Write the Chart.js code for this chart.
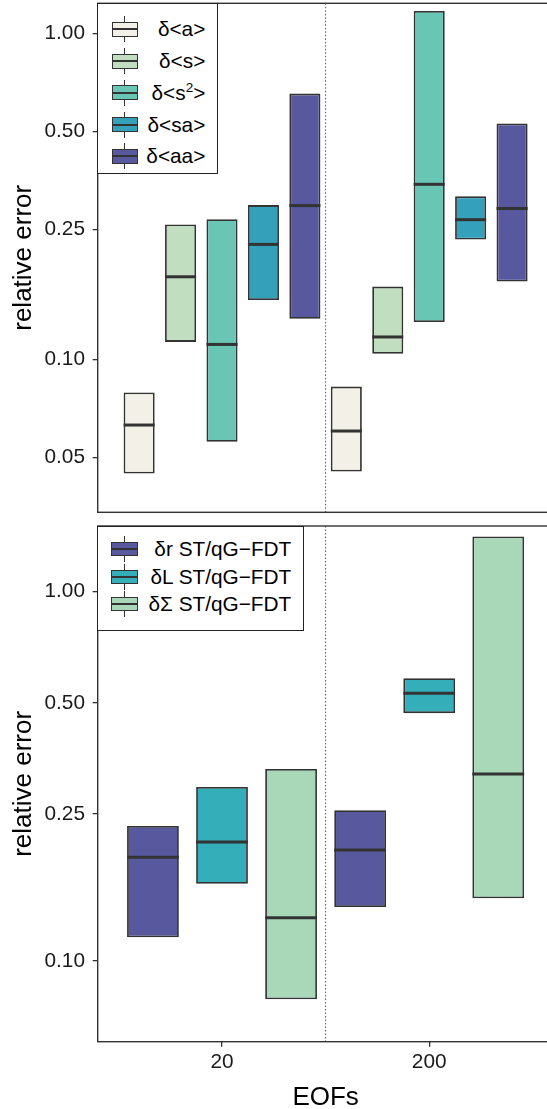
<!DOCTYPE html>
<html lang="en">
<head>
  <meta charset="UTF-8">
  <title>Relative error vs EOFs</title>
  <script src="https://cdn.jsdelivr.net/npm/chart.js"></script>
  <style>
    html, body {
      margin: 0;
      padding: 0;
      background: #fff;
      overflow: hidden;
      width: 547px;
      height: 1109px;
    }
    body {
      position: relative;
      font-family: "Liberation Sans", Arial, sans-serif;
    }
    .panel { position: absolute; left: 0; width: 560px; }
    #topPanel { top: 0; height: 518px; }
    #botPanel { top: 520px; height: 605px; }
    .legend {
      position: absolute;
      background: #fff;
      border: 1.3px solid #222;
      box-sizing: border-box;
      z-index: 2;
    }
    .whisker { position: absolute; width: 1.2px; background: #333; }
    .key {
      position: absolute;
      box-sizing: border-box;
      border: 1.8px solid #333;
    }
    .key .mid {
      position: absolute;
      left: 0; right: 0;
      top: calc(50% - 1px);
      height: 2px;
      background: #333;
    }
    .ltext {
      position: absolute;
      font-size: 20.8px;
      line-height: 1;
      color: #000;
      white-space: nowrap;
      transform: translateY(-50%);
    }
    .ltext sup {
      font-size: 0.65em;
      position: relative;
      top: -0.6em;
      vertical-align: baseline;
      line-height: 0;
    }
  </style>
</head>
<body>

  <div class="panel" id="topPanel"><canvas id="topChart" width="560" height="518"></canvas></div>
  <div class="panel" id="botPanel"><canvas id="botChart" width="560" height="605"></canvas></div>
  <div class="legend" id="topLegend" style="left:97px; top:3px; width:121px; height:171px;"></div>
  <div class="legend" id="botLegend" style="left:97px; top:526px; width:207px; height:105px;"></div>

  <script>
    // categories (number of EOFs) and their position on the x scale
    const eofLabels = ['20', '200'];
    const eofPos = [0, 1];
    const dividerAt = 0.5;

    const topTicks = [0.05, 0.10, 0.25, 0.50, 1.00];
    const botTicks = [0.10, 0.25, 0.50, 1.00];

    // upper panel: one row per series, one value per EOF category
    const topNames = ['δ<a>', 'δ<s>', 'δ<s²>', 'δ<sa>', 'δ<aa>'];
    const topColors = ['#F3F1E7', '#C1DFC0', '#6AC6B4', '#35A0BA', '#57589D'];
    const topLower = [[0.0446, 0.0452], [0.113, 0.104], [0.0558, 0.130], [0.152, 0.233], [0.133, 0.173]];
    const topMedian = [[0.0628, 0.0602], [0.179, 0.117], [0.111, 0.344], [0.225, 0.268], [0.296, 0.290]];
    const topUpper = [[0.0791, 0.0824], [0.259, 0.167], [0.269, 1.17], [0.297, 0.316], [0.653, 0.529]];

    // lower panel
    const botNames = ['δr ST/qG−FDT', 'δL ST/qG−FDT', 'δΣ ST/qG−FDT'];
    const botColors = ['#57589D', '#34AFB9', '#A8D8B8'];
    const botLower = [[0.116, 0.140], [0.162, 0.469], [0.0788, 0.148]];
    const botMedian = [[0.191, 0.200], [0.210, 0.531], [0.131, 0.321]];
    const botUpper = [[0.232, 0.256], [0.296, 0.583], [0.331, 1.41]];

    const FONT = '"Liberation Sans", Arial, sans-serif';

    // medians, dotted divider and panel frame
    const boxExtras = {
      id: 'boxExtras',
      beforeDatasetsDraw(chart) {
        const { ctx, chartArea: a, scales: { x } } = chart;
        const px = x.getPixelForValue(dividerAt);
        ctx.save();
        ctx.strokeStyle = '#555';
        ctx.lineWidth = 1;
        ctx.setLineDash([1.5, 2]);
        ctx.beginPath();
        ctx.moveTo(px, a.top);
        ctx.lineTo(px, a.bottom);
        ctx.stroke();
        ctx.restore();
      },
      afterDatasetsDraw(chart) {
        const { ctx, chartArea: a, scales: { y } } = chart;
        ctx.save();
        ctx.strokeStyle = '#333';
        ctx.lineWidth = 3;
        chart.data.datasets.forEach((ds, di) => {
          chart.getDatasetMeta(di).data.forEach((bar, i) => {
            const py = y.getPixelForValue(ds.medians[i]);
            ctx.beginPath();
            ctx.moveTo(bar.x - bar.width / 2, py);
            ctx.lineTo(bar.x + bar.width / 2, py);
            ctx.stroke();
          });
        });
        ctx.lineWidth = 1.4;
        ctx.strokeRect(a.left, a.top, a.right - a.left, a.bottom - a.top);
        ctx.restore();
      }
    };

    function makeChart(id, names, colors, lower, median, upper, ticks, yMin, yMax, showX, padding) {
      const datasets = names.map((name, s) => ({
        label: name,
        data: eofPos.map((p, i) => ({ x: p, y: [lower[s][i], upper[s][i]] })),
        medians: median[s],
        backgroundColor: colors[s],
        borderColor: '#333',
        borderWidth: 1.8,
        borderSkipped: false,
        categoryPercentage: 1.0,
        barPercentage: 0.75
      }));

      return new Chart(document.getElementById(id), {
        type: 'bar',
        data: { datasets },
        plugins: [boxExtras],
        options: {
          responsive: false,
          maintainAspectRatio: false,
          animation: false,
          layout: { padding },
          plugins: { legend: { display: false }, tooltip: { enabled: false } },
          scales: {
            x: {
              type: 'linear',
              display: showX,
              offset: false,
              min: -0.6,
              max: 1.6,
              afterBuildTicks: s => { s.ticks = eofPos.map(v => ({ value: v })); },
              afterFit: s => {
                if (showX) s.height = 83.3;
                s.paddingLeft = 0;
                s.paddingRight = 0;
              },
              ticks: {
                autoSkip: false,
                maxRotation: 0,
                padding: 3,
                color: '#1a1a1a',
                font: { family: FONT, size: 20.8 },
                callback: (v, i) => eofLabels[i]
              },
              grid: { offset: false, drawOnChartArea: false, drawTicks: true, tickLength: 5, color: '#333', lineWidth: 1.3 },
              border: { display: false },
              title: {
                display: true,
                text: 'EOFs',
                color: '#000',
                font: { family: FONT, size: 26 },
                padding: { top: 11.4, bottom: 11.4 }
              }
            },
            y: {
              type: 'logarithmic',
              min: yMin,
              max: yMax,
              afterBuildTicks: s => { s.ticks = ticks.map(v => ({ value: v })); },
              afterFit: s => {
                s.width = 97.7;
                s.paddingTop = 0;
                s.paddingBottom = 0;
              },
              ticks: {
                autoSkip: false,
                padding: 7.7,
                color: '#1a1a1a',
                font: { family: FONT, size: 20.8 },
                callback: v => Number(v).toFixed(2)
              },
              grid: { drawOnChartArea: false, drawTicks: true, tickLength: 5, color: '#333', lineWidth: 1.3 },
              border: { display: false },
              title: {
                display: true,
                text: 'relative error',
                color: '#000',
                font: { family: FONT, size: 26 },
                padding: { top: 8.4, bottom: 8.4 }
              }
            }
          }
        }
      });
    }

    makeChart('topChart', topNames, topColors, topLower, topMedian, topUpper, topTicks,
      0.0339, 1.236, false, { top: 3.3, bottom: 5.7, left: 0, right: 6.5 });
    makeChart('botChart', botNames, botColors, botLower, botMedian, botUpper, botTicks,
      0.0605, 1.506, true, { top: 6, bottom: 0, left: 0, right: 6.5 });

    function fmt(label) {
      return label.replace(/&/g, '&amp;').replace(/</g, '&lt;').replace(/>/g, '&gt;')
        .replace('²', '<sup>2</sup>');
    }

    function buildLegend(el, names, colors, cfg) {
      names.forEach((name, i) => {
        const cy = cfg.first + i * cfg.gap;
        const w = document.createElement('div');
        w.className = 'whisker';
        w.style.left = (cfg.cx - 0.6) + 'px';
        w.style.top = (cy - cfg.wh) + 'px';
        w.style.height = (2 * cfg.wh) + 'px';
        el.appendChild(w);

        const k = document.createElement('div');
        k.className = 'key';
        k.style.left = (cfg.cx - cfg.kw / 2) + 'px';
        k.style.top = (cy - cfg.kh / 2) + 'px';
        k.style.width = cfg.kw + 'px';
        k.style.height = cfg.kh + 'px';
        k.style.background = colors[i];
        k.innerHTML = '<div class="mid"></div>';
        el.appendChild(k);

        const t = document.createElement('div');
        t.className = 'ltext';
        t.style.right = cfg.textRight + 'px';
        t.style.top = cy + 'px';
        t.innerHTML = fmt(name);
        el.appendChild(t);
      });
    }

    buildLegend(document.getElementById('topLegend'), topNames, topColors,
      { cx: 26.6, first: 25.4, gap: 31.7, kw: 26, kh: 15, wh: 13, textRight: 11.7 });
    buildLegend(document.getElementById('botLegend'), botNames, botColors,
      { cx: 26.6, first: 22, gap: 27.6, kw: 27, kh: 14, wh: 13, textRight: 11.7 });
  </script>

</body>
</html>
